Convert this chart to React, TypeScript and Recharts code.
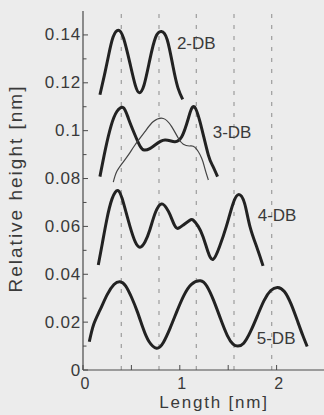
import React from 'react';
import {
  LineChart,
  Line,
  XAxis,
  YAxis,
  ReferenceLine,
  ReferenceDot,
} from 'recharts';

// height profiles along the chain, one per dangling-bond cluster [nm]
const db2 = [
  { x: 0.175, y: 0.115 }, { x: 0.22, y: 0.123 }, { x: 0.262, y: 0.131 }, { x: 0.31, y: 0.139 },
  { x: 0.365, y: 0.142 }, { x: 0.42, y: 0.1385 }, { x: 0.486, y: 0.128 }, { x: 0.54, y: 0.119 },
  { x: 0.58, y: 0.1159 }, { x: 0.63, y: 0.119 }, { x: 0.69, y: 0.1296 }, { x: 0.75, y: 0.139 },
  { x: 0.81, y: 0.1414 }, { x: 0.87, y: 0.138 }, { x: 0.93, y: 0.1268 }, { x: 0.98, y: 0.118 },
  { x: 1.03, y: 0.1131 },
];

const db3 = [
  { x: 0.175, y: 0.0808 }, { x: 0.23, y: 0.092 }, { x: 0.29, y: 0.102 }, { x: 0.35, y: 0.108 },
  { x: 0.417, y: 0.1096 }, { x: 0.47, y: 0.105 }, { x: 0.537, y: 0.0982 }, { x: 0.59, y: 0.0935 },
  { x: 0.633, y: 0.0919 }, { x: 0.69, y: 0.0925 }, { x: 0.744, y: 0.094 }, { x: 0.8, y: 0.0955 },
  { x: 0.847, y: 0.0961 }, { x: 0.9, y: 0.0958 }, { x: 0.95, y: 0.0954 }, { x: 1.02, y: 0.0975 },
  { x: 1.088, y: 0.1051 }, { x: 1.15, y: 0.11 }, { x: 1.226, y: 0.101 }, { x: 1.295, y: 0.0898 },
  { x: 1.34, y: 0.0853 }, { x: 1.39, y: 0.0808 },
];

// thin trace drawn across the 3-DB profile
const db3Thin = [
  { x: 0.313, y: 0.0785 }, { x: 0.35, y: 0.083 }, { x: 0.417, y: 0.087 }, { x: 0.48, y: 0.0905 },
  { x: 0.537, y: 0.094 }, { x: 0.64, y: 0.0996 }, { x: 0.727, y: 0.1038 }, { x: 0.83, y: 0.1051 },
  { x: 0.916, y: 0.1017 }, { x: 0.985, y: 0.0968 }, { x: 1.036, y: 0.0943 }, { x: 1.1, y: 0.0936 },
  { x: 1.157, y: 0.093 }, { x: 1.226, y: 0.0885 }, { x: 1.26, y: 0.084 }, { x: 1.295, y: 0.0794 },
];

const db4 = [
  { x: 0.158, y: 0.0439 }, { x: 0.2, y: 0.053 }, { x: 0.245, y: 0.0627 }, { x: 0.3, y: 0.0715 },
  { x: 0.364, y: 0.0749 }, { x: 0.42, y: 0.0695 }, { x: 0.486, y: 0.0599 }, { x: 0.54, y: 0.0535 },
  { x: 0.588, y: 0.0513 }, { x: 0.64, y: 0.0535 }, { x: 0.69, y: 0.0585 }, { x: 0.75, y: 0.066 },
  { x: 0.811, y: 0.0694 }, { x: 0.86, y: 0.0678 }, { x: 0.9, y: 0.0648 }, { x: 0.945, y: 0.0605 },
  { x: 0.983, y: 0.0592 }, { x: 1.04, y: 0.0607 }, { x: 1.1, y: 0.0625 }, { x: 1.137, y: 0.0627 },
  { x: 1.19, y: 0.06 }, { x: 1.24, y: 0.0557 }, { x: 1.29, y: 0.0495 }, { x: 1.344, y: 0.0462 },
  { x: 1.41, y: 0.0515 }, { x: 1.48, y: 0.0599 }, { x: 1.55, y: 0.0695 }, { x: 1.61, y: 0.0733 },
  { x: 1.67, y: 0.0695 }, { x: 1.725, y: 0.0599 }, { x: 1.8, y: 0.0508 }, { x: 1.86, y: 0.0435 },
];

const db5 = [
  { x: 0.065, y: 0.0118 }, { x: 0.11, y: 0.019 }, { x: 0.175, y: 0.025 }, { x: 0.25, y: 0.0315 },
  { x: 0.32, y: 0.0357 }, { x: 0.381, y: 0.0369 }, { x: 0.44, y: 0.0352 }, { x: 0.5, y: 0.0305 },
  { x: 0.56, y: 0.0245 }, { x: 0.62, y: 0.0175 }, { x: 0.68, y: 0.012 }, { x: 0.76, y: 0.0091 },
  { x: 0.83, y: 0.0115 }, { x: 0.9, y: 0.0175 }, { x: 0.97, y: 0.0245 }, { x: 1.04, y: 0.031 },
  { x: 1.12, y: 0.0358 }, { x: 1.213, y: 0.0373 }, { x: 1.28, y: 0.035 }, { x: 1.35, y: 0.029 },
  { x: 1.42, y: 0.0215 }, { x: 1.49, y: 0.0145 }, { x: 1.55, y: 0.0108 }, { x: 1.6, y: 0.01 },
  { x: 1.66, y: 0.0112 }, { x: 1.73, y: 0.016 }, { x: 1.8, y: 0.0225 }, { x: 1.87, y: 0.029 },
  { x: 1.94, y: 0.0332 }, { x: 2.01, y: 0.0345 }, { x: 2.08, y: 0.0328 }, { x: 2.15, y: 0.0275 },
  { x: 2.22, y: 0.02 }, { x: 2.27, y: 0.0145 }, { x: 2.316, y: 0.0098 },
];

// curve names and where their labels sit (data coords)
const curveLabels = [
  { name: '2-DB', x: 0.97, y: 0.1366 },
  { name: '3-DB', x: 1.34, y: 0.0995 },
  { name: '4-DB', x: 1.805, y: 0.0648 },
  { name: '5-DB', x: 1.795, y: 0.0134 },
];

// dimer-row positions marked with dashed guides
const rowPositions = [0.395, 0.785, 1.17, 1.56, 1.95];

const xTicks = [0, 0.5, 1, 1.5, 2, 2.5];
const xTickText = ['0', '', '1', '', '2', ''];
const yTicks = [0, 0.01, 0.02, 0.03, 0.04, 0.05, 0.06, 0.07, 0.08, 0.09, 0.1, 0.11, 0.12, 0.13, 0.14];
const yTickText = ['0', '', '0.02', '', '0.04', '', '0.06', '', '0.08', '', '0.1', '', '0.12', '', '0.14'];

const FONT = '"Liberation Sans", Arial, sans-serif';
const TEXT = '#3a3a3a';
const FRAME = '#4a4a4a';
const INK = '#222';

const labelFor = (ticks: number[], text: string[], v: number) => {
  const i = ticks.findIndex((t) => Math.abs(t - v) < 1e-6);
  return i >= 0 ? text[i] : '';
};

const LeftTick = (props: any) => {
  const { x, y, payload } = props;
  const label = labelFor(yTicks, yTickText, payload.value);
  return (
    <g>
      <line x1={x} x2={x + (label ? 5 : 3.5)} y1={y} y2={y} stroke={FRAME} strokeWidth={1} />
      {label && (
        <text x={x - 2} y={y} textAnchor="end" dominantBaseline="central" fill={TEXT} fontSize={17} letterSpacing={0.8} fontFamily={FONT}>
          {label}
        </text>
      )}
    </g>
  );
};

const RightTick = (props: any) => {
  const { x, y, payload } = props;
  const major = labelFor(yTicks, yTickText, payload.value) !== '';
  return <line x1={x} x2={x - (major ? 5 : 3.5)} y1={y} y2={y} stroke={FRAME} strokeWidth={1} />;
};

const BottomTick = (props: any) => {
  const { x, y, payload } = props;
  const label = labelFor(xTicks, xTickText, payload.value);
  return (
    <g>
      <line x1={x} x2={x} y1={y} y2={y - 5} stroke={FRAME} strokeWidth={1} />
      {label && (
        <text x={x + 2} y={y + 13} textAnchor="middle" dominantBaseline="central" fill={TEXT} fontSize={16} fontFamily={FONT}>
          {label}
        </text>
      )}
    </g>
  );
};

const TopTick = (props: any) => {
  const { x, y } = props;
  return <line x1={x} x2={x} y1={y} y2={y + 5} stroke={FRAME} strokeWidth={1} />;
};

export default function App() {
  return (
    <div
      style={{
        position: 'fixed',
        left: 0,
        top: 0,
        width: 324,
        height: 415,
        overflow: 'hidden',
        background: '#ececec',
      }}
    >
      <LineChart width={340} height={415} margin={{ top: 11, right: 15, bottom: 0, left: 0 }}>
        <XAxis
          dataKey="x"
          type="number"
          domain={[0, 2.5]}
          ticks={xTicks}
          interval={0}
          tickSize={0}
          tickMargin={0}
          height={45}
          allowDataOverflow
          axisLine={{ stroke: FRAME, strokeWidth: 1.2 }}
          tickLine={false}
          tick={<BottomTick />}
          label={{
            value: 'Length [nm]',
            position: 'insideBottom',
            offset: 7,
            dx: 10,
            fill: TEXT,
            fontSize: 17,
            letterSpacing: 1.8,
            fontFamily: FONT,
            style: { textAnchor: 'middle' },
          }}
        />
        <XAxis
          xAxisId="top"
          orientation="top"
          type="number"
          domain={[0, 2.5]}
          ticks={xTicks}
          interval={0}
          tickSize={0}
          tickMargin={0}
          height={0}
          allowDataOverflow
          axisLine={{ stroke: FRAME, strokeWidth: 1.2 }}
          tickLine={false}
          tick={<TopTick />}
        />
        <YAxis
          type="number"
          domain={[0, 0.15]}
          ticks={yTicks}
          interval={0}
          tickSize={0}
          tickMargin={0}
          width={83}
          allowDataOverflow
          axisLine={{ stroke: FRAME, strokeWidth: 1.2 }}
          tickLine={false}
          tick={<LeftTick />}
          label={{
            value: 'Relative height [nm]',
            angle: -90,
            position: 'insideLeft',
            offset: 15,
            dy: -2,
            fill: TEXT,
            fontSize: 19,
            letterSpacing: 2,
            fontFamily: FONT,
            style: { textAnchor: 'middle' },
          }}
        />
        <YAxis
          yAxisId="right"
          orientation="right"
          type="number"
          domain={[0, 0.15]}
          ticks={yTicks}
          interval={0}
          tickSize={0}
          tickMargin={0}
          width={0}
          allowDataOverflow
          axisLine={{ stroke: FRAME, strokeWidth: 1.2 }}
          tickLine={false}
          tick={<RightTick />}
        />

        {rowPositions.map((p) => (
          <ReferenceLine key={p} x={p} stroke="#8c8c8c" strokeWidth={1} strokeDasharray="4 7" />
        ))}

        <Line data={db2} dataKey="y" type="natural" stroke={INK} strokeWidth={3} dot={false} isAnimationActive={false} />
        <Line data={db3} dataKey="y" type="natural" stroke={INK} strokeWidth={3} dot={false} isAnimationActive={false} />
        <Line data={db3Thin} dataKey="y" type="natural" stroke="#444" strokeWidth={1.2} dot={false} isAnimationActive={false} />
        <Line data={db4} dataKey="y" type="natural" stroke={INK} strokeWidth={3} dot={false} isAnimationActive={false} />
        <Line data={db5} dataKey="y" type="natural" stroke={INK} strokeWidth={3} dot={false} isAnimationActive={false} />

        {curveLabels.map((c) => (
          <ReferenceDot
            key={c.name}
            x={c.x}
            y={c.y}
            r={0}
            fill="none"
            stroke="none"
            label={{ value: c.name, position: 'right', offset: 0, fill: TEXT, fontSize: 17, fontFamily: FONT }}
          />
        ))}
      </LineChart>
    </div>
  );
}
